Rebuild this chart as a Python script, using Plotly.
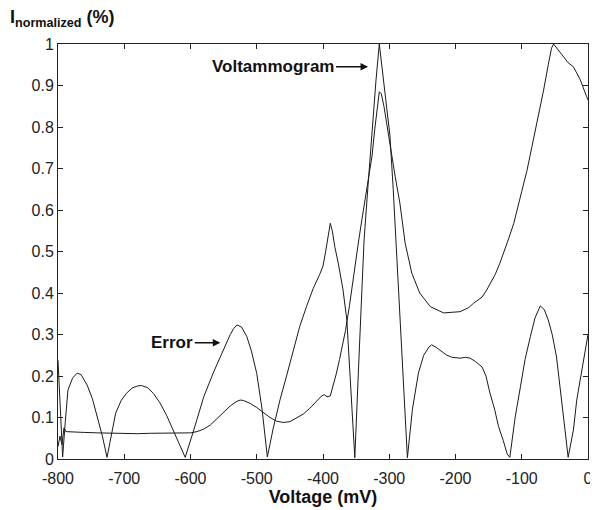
import plotly.graph_objects as go

# ---- Data ----
volt_x = [-800, -797, -794, -791, -788, -780, -760, -740, -720, -700, -680, -660, -640, -620,
          -600, -590, -580, -570, -560, -550, -540, -530, -525, -520, -510, -500, -490, -480,
          -470, -460, -450, -440, -430, -420, -410, -402, -398, -394, -389, -385, -380, -375,
          -370, -366, -360, -355, -350, -346, -340, -335, -330, -326, -322, -318, -315, -312,
          -308, -304, -300, -296, -291, -284, -276, -266, -254, -238, -218, -200, -193, -180,
          -173, -160, -153, -140, -133, -120, -112, -100, -92, -85, -77, -67, -60, -55, -52,
          -45, -37, -30, -22, -12, -2, 0]
volt_y = [0.03, 0.055, 0.035, 0.075, 0.066, 0.065, 0.064, 0.063, 0.062, 0.061, 0.061, 0.062,
          0.062, 0.062, 0.063, 0.066, 0.072, 0.082, 0.097, 0.113, 0.128, 0.139, 0.142, 0.141,
          0.134, 0.124, 0.112, 0.100, 0.091, 0.088, 0.090, 0.098, 0.108, 0.122, 0.138, 0.152,
          0.155, 0.150, 0.152, 0.175, 0.205, 0.240, 0.275, 0.31, 0.37, 0.43, 0.48, 0.528, 0.59,
          0.64, 0.68, 0.73, 0.793, 0.85, 0.885, 0.88, 0.85, 0.81, 0.775, 0.73, 0.68, 0.617,
          0.52, 0.448, 0.40, 0.367, 0.352, 0.353, 0.355, 0.365, 0.375, 0.39, 0.407, 0.445,
          0.472, 0.53, 0.568, 0.645, 0.696, 0.75, 0.81, 0.889, 0.95, 0.99, 1.0, 0.985, 0.969,
          0.955, 0.945, 0.915, 0.873, 0.865]

err_x = [-800, -797, -793, -789, -785, -778, -771, -765, -756, -748, -741, -733, -726, -720,
         -713, -705, -697, -688, -680, -674, -665, -656, -646, -636, -626, -617, -608, -595,
         -580, -565, -550, -540, -535, -530, -523, -515, -508, -500, -492, -484, -475, -465,
         -455, -445, -435, -425, -415, -405, -400, -396, -392, -389, -386, -382, -377, -370,
         -364, -358, -352, -345, -338, -332, -326, -320, -315, -309, -304, -299, -294, -290,
         -283, -272.6, -265, -256, -248, -240, -236, -230, -220, -213, -205, -193, -185, -178,
         -170, -160, -154, -148, -141, -135, -128, -122, -118, -110, -102, -95, -87, -80, -72,
         -66, -60, -54, -47.5, -40, -34, -30, -22, -17, -10, -2, 0]
err_y = [0.238, 0.12, 0.005, 0.09, 0.166, 0.195, 0.207, 0.203, 0.178, 0.145, 0.102, 0.055,
         0.004, 0.055, 0.11, 0.14, 0.158, 0.171, 0.176, 0.177, 0.172, 0.158, 0.135, 0.105,
         0.07, 0.035, 0.004, 0.07, 0.15, 0.21, 0.265, 0.3, 0.314, 0.323, 0.318, 0.295, 0.26,
         0.206, 0.12, 0.005, 0.075, 0.142, 0.2, 0.263, 0.32, 0.367, 0.41, 0.445, 0.465, 0.5,
         0.545, 0.568, 0.55, 0.51, 0.472, 0.41, 0.335, 0.18, 0.003, 0.27, 0.528, 0.66, 0.793,
         0.913, 1.0, 0.913, 0.85, 0.78, 0.65, 0.53, 0.287, 0.003, 0.12, 0.207, 0.25, 0.27,
         0.275, 0.27, 0.258, 0.25, 0.245, 0.243, 0.245, 0.243, 0.235, 0.222, 0.2, 0.159, 0.12,
         0.078, 0.045, 0.012, 0.004, 0.1, 0.174, 0.24, 0.295, 0.34, 0.369, 0.36, 0.335, 0.3,
         0.246, 0.15, 0.06, 0.004, 0.07, 0.142, 0.21, 0.287, 0.3]

x_ticks = [-800, -700, -600, -500, -400, -300, -200, -100, 0]
x_labels = ["-800", "-700", "-600", "-500", "-400", "-300", "-200", "-100", "0"]
y_ticks = [0, 0.1, 0.2, 0.3, 0.4, 0.5, 0.6, 0.7, 0.8, 0.9, 1]
y_labels = ["0", "0.1", "0.2", "0.3", "0.4", "0.5", "0.6", "0.7", "0.8", "0.9", "1"]

FONT = "Arial, Liberation Sans, sans-serif"
LINE = "#1a1a1a"

fig = go.Figure()
fig.add_trace(go.Scatter(x=volt_x, y=volt_y, mode="lines",
                         line=dict(color=LINE, width=1), name="Voltammogram"))
fig.add_trace(go.Scatter(x=err_x, y=err_y, mode="lines",
                         line=dict(color=LINE, width=1), name="Error"))

axis_common = dict(showline=True, linecolor="#222", linewidth=1, mirror="ticks",
                   ticks="inside", ticklen=5, tickwidth=1, tickcolor="#222",
                   showgrid=False, zeroline=False, automargin=False,
                   tickfont=dict(family=FONT, size=16, color="#222"))

fig.update_xaxes(range=[-800, 0], tickvals=x_ticks, ticktext=x_labels,
                 ticklabelstandoff=5,
                 title=dict(text="<b>Voltage (mV)</b>", font=dict(family=FONT, size=18, color="#111"),
                            standoff=1),
                 **axis_common)
fig.update_yaxes(range=[0, 1], tickvals=y_ticks, ticktext=y_labels, **axis_common)

fig.add_annotation(xref="paper", yref="paper", x=-0.095, y=1.0, yshift=26,
                   xanchor="left", yanchor="middle", showarrow=False,
                   text="<b>I<sub>normalized</sub> (%)</b>",
                   font=dict(family=FONT, size=18, color="#111"))

fig.add_annotation(x=-332, y=0.945, xref="x", yref="y", text="<b>Voltammogram</b>",
                   showarrow=True, arrowhead=2, arrowsize=1, arrowwidth=1.5, arrowcolor="#111",
                   ax=-95, ay=0, font=dict(family=FONT, size=17, color="#111"))
fig.add_annotation(x=-555, y=0.28, xref="x", yref="y", text="<b>Error</b>",
                   showarrow=True, arrowhead=2, arrowsize=1, arrowwidth=1.5, arrowcolor="#111",
                   ax=-48, ay=0, font=dict(family=FONT, size=17, color="#111"))

# page body has an 8px default margin, so the figure is sized/offset to compensate
fig.update_layout(width=590, height=502, plot_bgcolor="white", paper_bgcolor="white",
                  showlegend=False, margin=dict(l=50, r=10, t=36, b=51))

fig.write_html("out.html")
